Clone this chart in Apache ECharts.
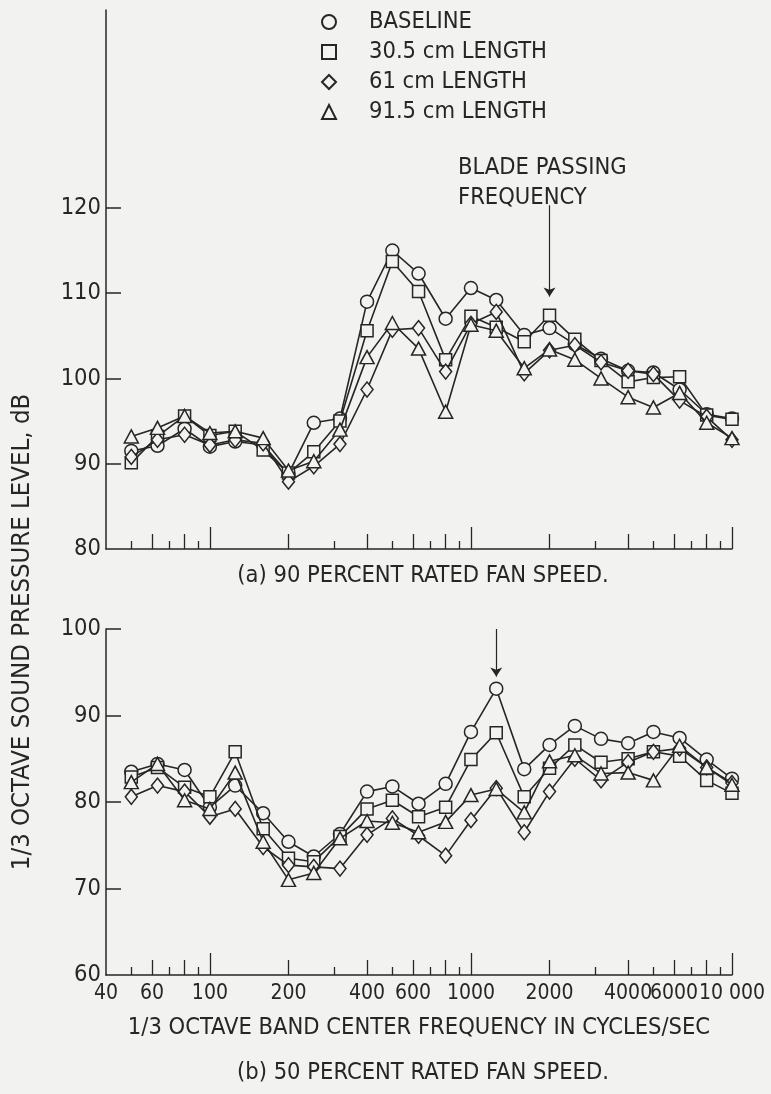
<!DOCTYPE html>
<html>
<head>
<meta charset="utf-8">
<script src="https://cdn.jsdelivr.net/npm/echarts@6/dist/echarts.min.js"></script>
<style>
  html, body { margin: 0; padding: 0; background: #f2f2f0; }
  #chart { width: 771px; height: 1094px; }
</style>
</head>
<body>
<div id="chart"></div>
<script>
// 1/3 octave band centre frequencies, Hz
const freqs = [50, 63, 80, 100, 125, 160, 200, 250, 315, 400, 500, 630, 800, 1000, 1250, 1600, 2000, 2500, 3150, 4000, 5000, 6300, 8000, 10000]

// (a) 90 percent rated fan speed, dB
const a_baseline = [91.5, 92.1, 94.1, 92.0, 92.6, 92.2, 88.8, 94.8, 95.3, 109.0, 115.0, 112.3, 107.0, 110.6, 109.2, 105.1, 105.9, 104.0, 102.3, 100.9, 100.7, 98.7, 95.8, 95.3]
const a_len305 = [90.1, 93.2, 95.6, 93.3, 93.8, 91.6, 88.9, 91.4, 95.0, 105.6, 113.7, 110.2, 102.2, 107.3, 106.0, 104.3, 107.4, 104.6, 102.1, 99.6, 100.1, 100.2, 95.7, 95.2]
const a_len61 = [90.8, 92.8, 93.4, 92.2, 92.8, 92.4, 87.9, 89.7, 92.3, 98.7, 105.7, 105.9, 100.8, 106.4, 107.8, 100.6, 103.3, 103.9, 101.9, 100.9, 100.5, 97.4, 95.5, 92.8]
const a_len915 = [93.2, 94.2, 95.6, 93.6, 93.8, 93.0, 89.2, 90.3, 94.0, 102.5, 106.5, 103.5, 96.1, 106.3, 105.6, 101.2, 103.4, 102.2, 100.0, 97.8, 96.6, 98.3, 94.8, 93.0]

// (b) 50 percent rated fan speed, dB
const b_baseline = [83.5, 84.4, 83.7, 79.4, 81.9, 78.7, 75.4, 73.7, 76.3, 81.2, 81.8, 79.8, 82.1, 88.1, 93.1, 83.8, 86.6, 88.8, 87.3, 86.8, 88.1, 87.4, 84.9, 82.7]
const b_len305 = [82.9, 84.0, 81.7, 80.6, 85.8, 76.9, 73.5, 73.1, 76.0, 79.2, 80.2, 78.3, 79.4, 84.9, 88.0, 80.6, 83.9, 86.6, 84.6, 85.0, 85.8, 85.3, 82.5, 81.0]
const b_len61 = [80.6, 81.9, 81.2, 78.3, 79.2, 74.8, 72.7, 72.5, 72.3, 76.2, 78.1, 76.1, 73.8, 77.9, 81.6, 76.5, 81.2, 85.0, 82.5, 84.6, 85.8, 86.2, 84.0, 82.2]
const b_len915 = [82.3, 84.4, 80.2, 79.2, 83.4, 75.4, 71.0, 71.8, 75.8, 77.8, 77.6, 76.5, 77.7, 80.8, 81.5, 78.8, 84.7, 85.4, 83.3, 83.4, 82.5, 86.5, 84.0, 82.0]

const seriesNames = ['BASELINE', '30.5 cm LENGTH', '61 cm LENGTH', '91.5 cm LENGTH']

// axis ticks and labels (frequency in Hz, level in dB)
const xLabels = [40, 60, 100, 200, 400, 600, 1000, 2000, 4000, 6000, 10000]
const xShortTicks = [50, 70, 90, 300, 500, 700, 900, 3000, 5000, 7000, 9000]
const xMidTicks = [60, 80, 200, 400, 600, 800, 2000, 4000, 6000, 8000]
const xLongTicks = [100, 1000, 10000]
const yLabelsA = [80, 90, 100, 110, 120]
const yLabelsB = [60, 70, 80, 90, 100]

// blade passing frequency markers
const bladeA = 2000
const bladeB = 1250

const ink = '#262626'
const bg = '#f2f2f0'
const font = "'Liberation Sans Narrow', 'DejaVu Sans Condensed', 'Roboto Condensed', sans-serif"
const fs = 23.5
const lg = Math.log10
const xMin = lg(40)
const xMax = 4

const symbols = [
  { symbol: 'circle', size: 13 },
  { symbol: 'rect', size: 12 },
  { symbol: 'diamond', size: [12, 15] },
  { symbol: 'triangle', size: [14, 13] },
]

function makeSeries(vals, i, xi, yi, extra) {
  return Object.assign({
    type: 'line',
    name: seriesNames[i],
    xAxisIndex: xi,
    yAxisIndex: yi,
    symbol: symbols[i].symbol,
    symbolSize: symbols[i].size,
    showAllSymbol: true,
    data: freqs.map((f, k) => [lg(f), vals[k]]),
    lineStyle: { color: ink, width: 1.6 },
    itemStyle: { color: bg, borderColor: ink, borderWidth: 1.5 },
    emphasis: { disabled: true },
    z: 3 + i,
  }, extra || {})
}

function arrow(freq, from, to) {
  return {
    silent: true,
    symbol: ['none', 'arrow'],
    symbolSize: 9,
    lineStyle: { color: ink, width: 1.2, type: 'solid' },
    label: { show: false },
    data: [[{ coord: [lg(freq), from] }, { coord: [lg(freq), to] }]],
  }
}

function xAxes(grid, withLabels) {
  const base = { type: 'value', gridIndex: grid, position: 'bottom', min: xMin, max: xMax, splitLine: { show: false } }
  return [
    Object.assign({}, base, {
      axisLine: { show: true, lineStyle: { color: ink, width: 1.5 } },
      axisTick: { show: true, inside: true, length: 8, customValues: xShortTicks.map(lg), lineStyle: { color: ink, width: 1.3 } },
      axisLabel: withLabels
        ? {
            show: true,
            customValues: xLabels.map(lg),
            showMinLabel: true,
            showMaxLabel: true,
            hideOverlap: false,
            margin: 8,
            color: ink,
            fontSize: 21,
            fontFamily: font,
            formatter: v => {
              const f = Math.round(Math.pow(10, v))
              return f === 10000 ? '10 000' : String(f)
            },
          }
        : { show: false },
      name: withLabels ? '1/3 OCTAVE BAND CENTER FREQUENCY IN CYCLES/SEC' : '',
      nameLocation: 'middle',
      nameGap: 41,
      nameTextStyle: { color: ink, fontSize: fs, fontFamily: font },
    }),
    Object.assign({}, base, {
      axisLine: { show: false },
      axisTick: { show: true, inside: true, length: 15, customValues: xMidTicks.map(lg), lineStyle: { color: ink, width: 1.3 } },
      axisLabel: { show: false },
    }),
    Object.assign({}, base, {
      axisLine: { show: false },
      axisTick: { show: true, inside: true, length: 22, customValues: xLongTicks.map(lg), lineStyle: { color: ink, width: 1.3 } },
      axisLabel: { show: false },
    }),
  ]
}

function yAxis(grid, min, max, labels) {
  return {
    type: 'value',
    gridIndex: grid,
    min: min,
    max: max,
    splitLine: { show: false },
    axisLine: { show: true, lineStyle: { color: ink, width: 1.5 } },
    axisTick: { show: true, inside: true, length: 15, customValues: labels.slice(1), lineStyle: { color: ink, width: 1.5 } },
    axisLabel: { show: true, customValues: labels, margin: 5, color: ink, fontSize: fs, fontFamily: font },
  }
}

const chart = echarts.init(document.getElementById('chart'), null, { renderer: 'canvas' })

chart.setOption({
  backgroundColor: bg,
  animation: false,
  textStyle: { fontFamily: font },
  grid: [
    { left: 106, right: 39, top: 10, height: 539, outerBoundsMode: 'none' },
    { left: 106, right: 39, top: 629, height: 346, outerBoundsMode: 'none' },
  ],
  legend: {
    orient: 'vertical',
    left: 316,
    top: 5,
    itemWidth: 14,
    itemHeight: 14,
    itemGap: 6,
    selectedMode: false,
    textStyle: { color: ink, fontSize: fs, lineHeight: 24, fontFamily: font, padding: [0, 0, 0, 28] },
    data: [
      { name: seriesNames[0], icon: 'circle' },
      { name: seriesNames[1], icon: 'rect' },
      { name: seriesNames[2], icon: 'diamond' },
      { name: seriesNames[3], icon: 'triangle' },
    ],
  },
  xAxis: xAxes(0, false).concat(xAxes(1, true)),
  yAxis: [yAxis(0, 80, 143.2, yLabelsA), yAxis(1, 60, 100, yLabelsB)],
  series: [
    makeSeries(a_baseline, 0, 0, 0, { markLine: arrow(bladeA, 120.3, 109.6) }),
    makeSeries(a_len305, 1, 0, 0),
    makeSeries(a_len61, 2, 0, 0),
    makeSeries(a_len915, 3, 0, 0),
    makeSeries(b_baseline, 0, 3, 1, { markLine: arrow(bladeB, 100, 94.5) }),
    makeSeries(b_len305, 1, 3, 1),
    makeSeries(b_len61, 2, 3, 1),
    makeSeries(b_len915, 3, 3, 1),
  ],
  graphic: [
    {
      type: 'text', left: 458, top: 153,
      style: { text: 'BLADE PASSING\nFREQUENCY', fill: ink, fontSize: fs, lineHeight: 30, fontFamily: font },
    },
    {
      type: 'text', x: 423, y: 576,
      style: { text: '(a) 90 PERCENT RATED FAN SPEED.', fill: ink, fontSize: fs, fontFamily: font, align: 'center', verticalAlign: 'middle' },
    },
    {
      type: 'text', x: 423, y: 1073,
      style: { text: '(b) 50 PERCENT RATED FAN SPEED.', fill: ink, fontSize: fs, fontFamily: font, align: 'center', verticalAlign: 'middle' },
    },
    {
      type: 'text', x: 22, y: 632, rotation: Math.PI / 2,
      style: { text: '1/3 OCTAVE SOUND PRESSURE LEVEL, dB', fill: ink, fontSize: 25.5, fontFamily: font, align: 'center', verticalAlign: 'middle' },
    },
  ],
})
</script>
</body>
</html>
